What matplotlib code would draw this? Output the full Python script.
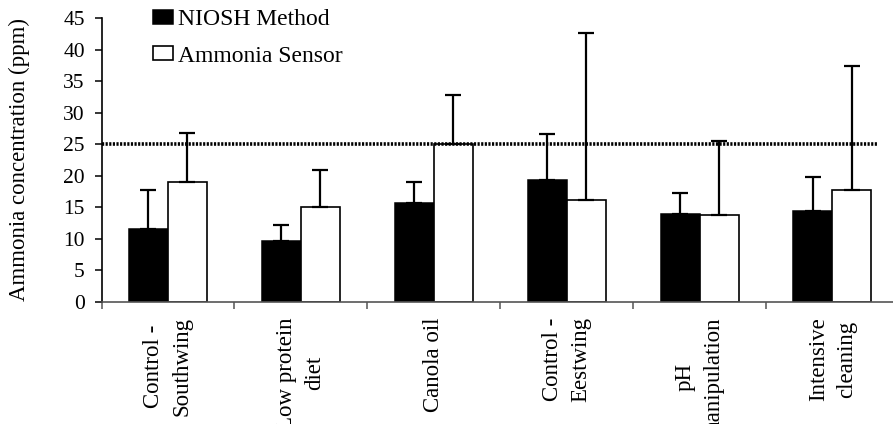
import matplotlib
matplotlib.use("Agg")
import matplotlib.pyplot as plt
import numpy as np

categories = ["Control -\nSouthwing", "Low protein\ndiet", "Canola oil",
              "Control -\nEestwing", "pH\nmanipulation", "Intensive\ncleaning"]
niosh = [11.5, 9.7, 15.7, 19.3, 13.9, 14.4]
niosh_err_top = [17.7, 12.2, 19.0, 26.6, 17.2, 19.8]
sensor = [19.0, 15.0, 25.0, 16.1, 13.8, 17.7]
sensor_err_top = [26.8, 21.0, 32.9, 42.6, 25.6, 37.4]
threshold = 25
yticks = list(range(0, 50, 5))

plt.rcParams['font.family'] = ['Liberation Serif', 'DejaVu Serif']

fig = plt.figure(figsize=(8.93, 4.24), dpi=100)
ax = fig.add_axes([101.5 / 893, 1 - 301.8 / 424, 797.4 / 893, 283.5 / 424])

x = np.arange(len(categories))
w = 0.2935
niosh_arr = np.array(niosh)
sensor_arr = np.array(sensor)
err_n = [np.zeros(len(x)), np.array(niosh_err_top) - niosh_arr]
err_s = [np.zeros(len(x)), np.array(sensor_err_top) - sensor_arr]

ekw = dict(elinewidth=1.6, capthick=1.6, ecolor='black')
ax.bar(x - w / 2, niosh_arr, w, color='black', edgecolor='black', linewidth=1.1,
       yerr=err_n, capsize=6, error_kw=ekw, label='NIOSH Method', zorder=2)
ax.bar(x + w / 2, sensor_arr, w, color='white', edgecolor='black', linewidth=1.2,
       yerr=err_s, capsize=6, error_kw=ekw, label='Ammonia Sensor', zorder=2)

ax.hlines(threshold, -0.5, 5.34, colors='black', linewidth=2.6,
          linestyles=[(0, (0.6, 0.4))], zorder=3)

ax.set_xlim(-0.5, 5.5)
ax.set_ylim(0, 45)
ax.set_yticks(yticks)
ax.set_yticklabels([str(t) for t in yticks], fontsize=15.5)
ax.tick_params(axis='y', direction='out', length=5, width=1.1, pad=7)

ax.set_xticks(x)
ax.set_xticklabels(categories, rotation=90, fontsize=16.5, ha='center', va='top',
                   multialignment='center', linespacing=1.45)
ax.tick_params(axis='x', which='major', length=0, pad=11)
ax.set_xticks(np.arange(-0.5, 6, 1), minor=True)
ax.tick_params(axis='x', which='minor', direction='out', length=5, width=1.1, color='#555555')

for s in ['top', 'right']:
    ax.spines[s].set_visible(False)
ax.spines['left'].set_linewidth(1.2)
ax.spines['bottom'].set_linewidth(1.2)
ax.spines['bottom'].set_color('#555555')

fig.text(19 / 893, 1 - 159.7 / 424, 'Ammonia concentration (ppm)', rotation=90,
         ha='center', va='center', fontsize=16.5)

leg = ax.legend(loc='upper left', bbox_to_anchor=(153 / 893, 0.978),
                bbox_transform=fig.transFigure, frameon=False, fontsize=17,
                handlelength=0.85, handleheight=0.55, handletextpad=0.2,
                labelspacing=0.65, borderpad=0, borderaxespad=0)

fig.savefig('out.png', dpi=100)
